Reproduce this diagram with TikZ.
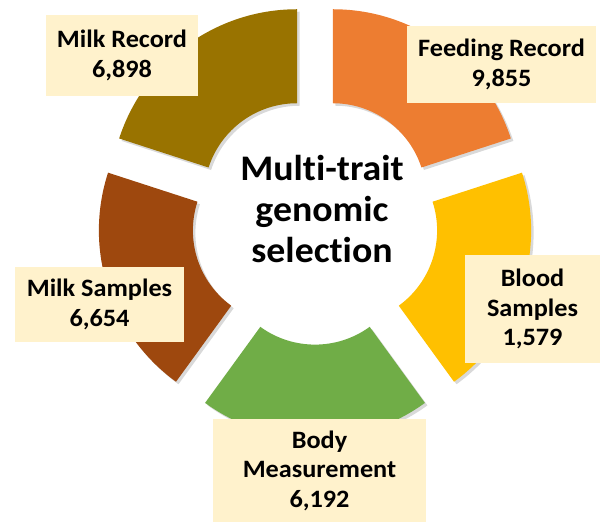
\documentclass[tikz,border=0pt]{standalone}
\usepackage{fontspec}
\setmainfont{Carlito}[Ligatures=NoCommon, FakeStretch=1.05]
\usetikzlibrary{shadows}
\definecolor{goldseg}{HTML}{997300}
\definecolor{orangeseg}{HTML}{ED7D31}
\definecolor{yellowseg}{HTML}{FFC000}
\definecolor{greenseg}{HTML}{70AD47}
\definecolor{brownseg}{HTML}{9E480E}
\definecolor{boxfill}{HTML}{FFF2CC}
\begin{document}
\begin{tikzpicture}[x=1pt, y=1pt,
  seg/.style={drop shadow={shadow xshift=2.5pt, shadow yshift=-2.5pt, opacity=.3}},
  lbl/.style={fill=boxfill, font=\bfseries\fontsize{25}{29.5}\selectfont, align=center, inner sep=0pt}]
  \useasboundingbox (-315,-301) rectangle (289,221);
  \foreach \ang/\col in {126/goldseg, 54/orangeseg, -18/yellowseg, -90/greenseg, 198/brownseg}
    \fill[\col, seg, shift={(\ang:30.6)}]
      ({\ang-36}:93) arc[start angle=\ang-36, end angle=\ang+36, radius=93]
      -- ({\ang+36}:187) arc[start angle=\ang+36, end angle=\ang-36, radius=187] -- cycle;
  \node[font=\bfseries\fontsize{36}{41}\selectfont, align=center] (hub) at (7,12) {Multi-trait\\genomic\\selection};
  \node[lbl, minimum width=152pt, minimum height=81pt] (milkrec) at (-193,165.5) {Milk Record\\6,898};
  \node[lbl, minimum width=189pt, minimum height=77pt] (feedrec) at (186.5,156.5) {Feeding Record\\9,855};
  \node[lbl, minimum width=135pt, minimum height=108pt] (blood) at (217.5,-88) {Blood\\Samples\\1,579};
  \node[lbl, minimum width=213pt, minimum height=103pt] (body) at (4.5,-249.5) {Body\\Measurement\\6,192};
  \node[lbl, minimum width=169pt, minimum height=75pt] (milksmp) at (-215.5,-83.5) {Milk Samples\\6,654};
\end{tikzpicture}
\end{document}
